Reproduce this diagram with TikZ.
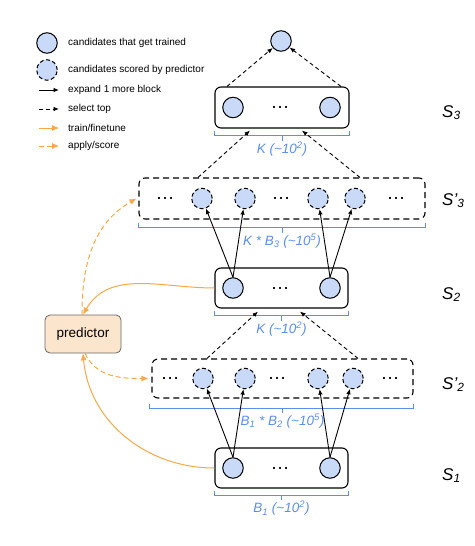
\documentclass[tikz,border=0pt]{standalone}
\usepackage{fontspec}
\setmainfont{Liberation Sans}
\usetikzlibrary{arrows.meta,positioning,calc}
\definecolor{candfill}{HTML}{C9DAF8}
\definecolor{sizeblue}{HTML}{5B8FEA}
\definecolor{trainorange}{HTML}{F8A846}
\definecolor{predfill}{HTML}{FCE5CD}
\definecolor{predborder}{HTML}{666666}
\begin{document}
\begin{tikzpicture}[x=1pt, y=1pt,
    trained/.style={circle, draw, line width=1pt, fill=candfill, minimum size=20.5pt, inner sep=0pt},
    scored/.style={trained, dash pattern=on 4pt off 2.5pt},
    block/.style={draw, line width=1.1pt, rounded corners=6pt, inner sep=0pt},
    pool/.style={block, dash pattern=on 6pt off 4pt},
    dots/.style={font=\fontsize{19}{19}\selectfont, inner sep=0pt},
    expand/.style={-{Latex[length=5.5pt,width=4.5pt]}, line width=0.9pt},
    select/.style={expand, dash pattern=on 4pt off 3pt},
    train/.style={-{Latex[length=7pt,width=6pt]}, color=trainorange, line width=1pt},
    apply/.style={train, dash pattern=on 5pt off 3pt},
    bracket/.style={draw=sizeblue, line width=1pt},
    sizelabel/.style={text=sizeblue, font=\fontsize{13.5}{15}\selectfont\itshape, inner sep=1pt},
    stagelabel/.style={font=\fontsize{17}{19}\selectfont\itshape, anchor=base west, inner sep=0pt},
    legendtext/.style={font=\fontsize{10}{12}\selectfont, anchor=west, inner sep=0pt}
]
    \useasboundingbox (0,0) rectangle (474,-546);

    % legend
    \node[trained] (legtrained) at (47,-43) {};
    \node[legendtext] (legtrainedtxt) at (68,-43) {candidates that get trained};
    \node[scored] (legscored) at (47,-70) {};
    \node[legendtext] (legscoredtxt) at (68,-70) {candidates scored by predictor};
    \node[legendtext] (legexpand) at (68,-90) {expand 1 more block};
    \node[legendtext] (legselect) at (68,-109) {select top};
    \node[legendtext] (legtrain) at (68,-128) {train/finetune};
    \node[legendtext] (legapply) at (68,-146) {apply/score};
    \draw[expand] ([xshift=-29pt]legexpand.west) -- ([xshift=-9pt]legexpand.west);
    \draw[select] ([xshift=-29pt]legselect.west) -- ([xshift=-9pt]legselect.west);
    \draw[train, line width=0.8pt] ([xshift=-29pt]legtrain.west) -- ([xshift=-9pt]legtrain.west);
    \draw[apply, line width=0.8pt] ([xshift=-29pt]legapply.west) -- ([xshift=-9pt]legapply.west);

    % stages
    \node[block, minimum width=134pt, minimum height=41pt] (s3) at (282,-107.5) {};
    \node[pool, minimum width=286pt, minimum height=41pt] (s3p) at (282,-198.5) {};
    \node[block, minimum width=133pt, minimum height=40pt] (s2) at (281.5,-288) {};
    \node[pool, minimum width=261pt, minimum height=39pt] (s2p) at (282.5,-378.5) {};
    \node[block, minimum width=133pt, minimum height=40pt] (s1) at (281.5,-468) {};

    \node[trained] (best) at (281,-41) {};
    \foreach \s/\y in {s3/-107.5, s2/-288, s1/-468} {
        \node[trained] (\s a) at (233,\y) {};
        \node[trained] (\s b) at (330,\y) {};
        \node[dots] at (280,\y) {…};
    }
    \foreach \x/\n in {202/a, 245/b, 318/c, 355/d}
        \node[scored] (s3p\n) at (\x,-198.5) {};
    \foreach \x in {165, 281, 396}
        \node[dots] at (\x,-198.5) {…};
    \foreach \x/\n in {203/a, 245/b, 318/c, 353/d}
        \node[scored] (s2p\n) at (\x,-378.5) {};
    \foreach \x in {170, 277, 390}
        \node[dots] at (\x,-378.5) {…};

    \node[draw=predborder, fill=predfill, line width=0.8pt, rounded corners=5pt, minimum width=76pt, minimum height=38pt, font=\fontsize{13.5}{15}\selectfont] (predictor) at (83,-334) {predictor};

    % sizes
    \draw[bracket] ([yshift=-2pt]s3.south west) |- ([yshift=-7pt]s3.south) -| ([yshift=-2pt]s3.south east);
    \draw[bracket] ([yshift=-7pt]s3.south) -- ++(0,-5) node[sizelabel, below] (size3) {K (\textasciitilde10\textsuperscript{2})};
    \draw[bracket] ([yshift=-3pt]s3p.south west) |- ([yshift=-8pt]s3p.south) -| ([yshift=-3pt]s3p.south east);
    \draw[bracket] ([yshift=-8pt]s3p.south) -- ++(0,-5) node[sizelabel, below] (size3p) {K * B\textsubscript{3} (\textasciitilde10\textsuperscript{5})};
    \draw[bracket] ([yshift=-2pt]s2.south west) |- ([yshift=-7pt]s2.south) -| ([yshift=-2pt]s2.south east);
    \draw[bracket] ([yshift=-7pt]s2.south) -- ++(0,-5) node[sizelabel, below] (size2) {K (\textasciitilde10\textsuperscript{2})};
    \draw[bracket] ([yshift=-5pt,xshift=-2pt]s2p.south west) |- ([yshift=-10pt]s2p.south) -| ([yshift=-5pt]s2p.south east);
    \draw[bracket] ([yshift=-10pt]s2p.south) -- ++(0,-4) node[sizelabel, below] (size2p) {B\textsubscript{1} * B\textsubscript{2} (\textasciitilde10\textsuperscript{5})};
    \draw[bracket] ([yshift=-2pt]s1.south west) |- ([yshift=-7pt]s1.south) -| ([yshift=-2pt]s1.south east);
    \draw[bracket] ([yshift=-7pt]s1.south) -- ++(0,-4) node[sizelabel, below] (size1) {B\textsubscript{1} (\textasciitilde10\textsuperscript{2})};

    \node[stagelabel] (lab3) at (442,-117) {S\textsubscript{3}};
    \node[stagelabel] (lab3p) at (442,-205) {S’\textsubscript{3}};
    \node[stagelabel] (lab2) at (442,-299) {S\textsubscript{2}};
    \node[stagelabel] (lab2p) at (442,-389) {S’\textsubscript{2}};
    \node[stagelabel] (lab1) at (442,-480) {S\textsubscript{1}};

    % expand
    \draw[expand] (s2a.north) -- (s3pa);
    \draw[expand] (s2a.north) -- (s3pb);
    \draw[expand] (s2b.north) -- (s3pc);
    \draw[expand] (s2b.north) -- (s3pd);
    \draw[expand] (s1a.north) -- (s2pa);
    \draw[expand] (s1a.north) -- (s2pb);
    \draw[expand] (s1b.north) -- (s2pc);
    \draw[expand] (s1b.north) -- (s2pd);

    % select
    \draw[select] ([xshift=-55pt]s3.north) -- (best);
    \draw[select] ([xshift=59pt]s3.north) -- (best);
    \draw[select] ([xshift=-84pt]s3p.north) -- ([xshift=-32pt,yshift=-2pt]s3.south);
    \draw[select] ([xshift=78pt]s3p.north) -- ([xshift=20pt,yshift=-2pt]s3.south);
    \draw[select] ([xshift=-75.5pt]s2p.north) -- ([xshift=-23.5pt,yshift=-3pt]s2.south);
    \draw[select] ([xshift=75.5pt]s2p.north) -- ([xshift=18.5pt,yshift=-3pt]s2.south);

    % predictor
    \draw[train] (s2.west) to[out=180, in=60] (predictor.north);
    \draw[apply] ([xshift=-1pt]predictor.north) to[out=90, in=210] ([xshift=-2pt]s3p.west);
    \draw[train] (s1.west) to[out=180, in=-85] (predictor.south);
    \draw[apply] ([xshift=2pt]predictor.south) to[out=-65, in=180] ([xshift=-3pt]s2p.west);
\end{tikzpicture}
\end{document}
